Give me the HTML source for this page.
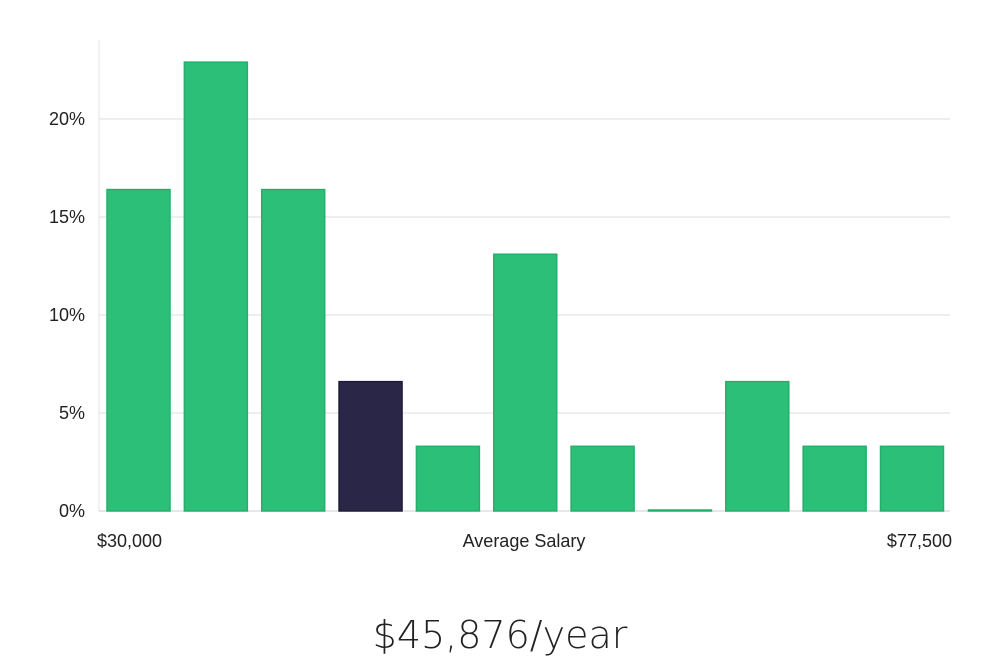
<!DOCTYPE html>
<html><head><meta charset="utf-8"><style>
html,body{margin:0;padding:0;background:#fff;width:1000px;height:660px;overflow:hidden;font-family:"Liberation Sans","DejaVu Sans",sans-serif;}
</style></head><body>
<svg id="chart" width="1000" height="660" xmlns="http://www.w3.org/2000/svg">
<g id="grid"></g><g id="bars"></g><g id="labels"></g>
<text x="500" y="648" text-anchor="middle" font-size="38" fill="#222" font-family="'DejaVu Sans','Liberation Sans',sans-serif" font-weight="200">$45,876/year</text>
</svg>
<script>
const categories = ["b1","b2","b3","b4","b5","b6","b7","b8","b9","b10","b11"];
const values = [16.4,22.9,16.4,6.6,3.3,13.1,3.3,0,6.6,3.3,3.3];
const highlightIndex = 3;
const yTicks = [0,5,10,15,20];
const yTickLabels = ["0%","5%","10%","15%","20%"];
const xLabels = ["$30,000","Average Salary","$77,500"];
const NS="http://www.w3.org/2000/svg";
const x0=99,x1=950,yBase=511,pxPer=19.6,step=77.35,bw=63,off=8;
const y=v=>yBase-v*pxPer;
const xb=i=>x0+off+i*step;
function mk(t,a){const e=document.createElementNS(NS,t);for(const k in a)e.setAttribute(k,a[k]);return e;}
const grid=document.getElementById('grid'),bars=document.getElementById('bars'),labels=document.getElementById('labels');
const ax=mk('line',{x1:x0,x2:x0,y1:40,y2:yBase,stroke:'#e3e3e3','stroke-width':1});


grid.appendChild(ax);
yTicks.forEach((t,i)=>{
  const l=mk('line',{x1:x0,x2:x1,y1:y(t),y2:y(t),stroke:i==0?'#cfcfcf':'#dedede','stroke-width':1});
  
  
  grid.appendChild(l);
  const tx=mk('text',{x:85,y:y(t)+6,'text-anchor':'end','font-size':18,fill:'#222'});
  tx.textContent=yTickLabels[i];
  
  
  labels.appendChild(tx);
});
values.forEach((v,i)=>{
  const h=Math.max(v*pxPer,1);
  const dark=i===highlightIndex;
  const r=mk('rect',{x:xb(i),y:yBase-h,width:bw,height:h,fill:dark?'#2a2647':'#2bbf77',stroke:dark?'#1e1a3a':'#23b06c','stroke-width':1.5});
  
  
  bars.appendChild(r);
});
[[97,'start'],[524,'middle'],[952,'end']].forEach((p,i)=>{
  const tx=mk('text',{x:p[0],y:547,'text-anchor':p[1],'font-size':18,fill:'#222'});
  tx.textContent=xLabels[i];
  
  
  labels.appendChild(tx);
});
</script>
</body></html>
